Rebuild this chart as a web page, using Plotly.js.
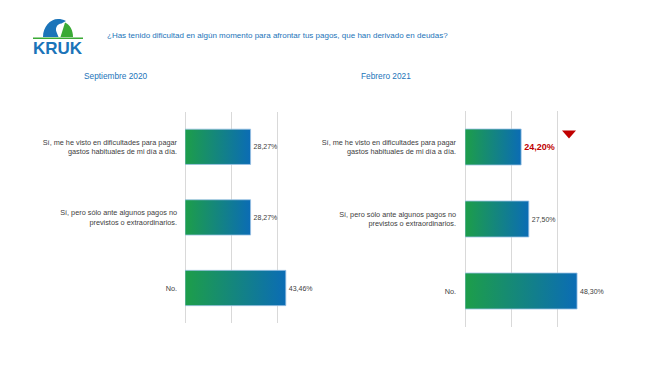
<!DOCTYPE html>
<html>
<head>
<meta charset="utf-8">
<script src="https://cdn.plot.ly/plotly-3.0.1.min.js"></script>
<style>html,body{margin:0;padding:0;background:#fff}</style>
</head>
<body>
<svg width="0" height="0" style="position:absolute">
  <defs>
    <linearGradient id="barGrad" x1="0" y1="0" x2="1" y2="0">
      <stop offset="0" stop-color="#1d9e49"/>
      <stop offset="1" stop-color="#0b6cb5"/>
    </linearGradient>
  </defs>
</svg>
<div id="chart" style="width:650px;height:366px"></div>
<script>
// ---- data ----
const categories = ["dificultades", "imprevistos", "no"];
const categoryLabels = [
  "Sí, me he visto en dificultades para pagar<br>gastos habituales de mi día a día.",
  "Sí, pero sólo ante algunos pagos no<br>previstos o extraordinarios.",
  "No."
];
const sep2020 = [28.27, 28.27, 43.46];
const feb2021 = [24.20, 27.50, 48.30];
const periodLabels = ["Septiembre 2020", "Febrero 2021"];
const questionTitle = "¿Has tenido dificultad en algún momento para afrontar tus pagos, que han derivado en deudas?";

// ---- helpers (pixel -> paper) ----
const W = 650, H = 366;
const px = x => x / W;
const py = y => 1 - y / H;
function pathPx(segs) {
  return segs.map(s => s[0] + (s.length > 1 ? " " + s.slice(1).map((v, i) => (i % 2 === 0 ? px(v) : py(v)).toFixed(5)).join(" ") : "")).join(" ");
}

const BLUE = "#1b74b9";
const GREEN = "#3aaa35";
const FAMILY = "Liberation Sans, Arial, sans-serif";
const labelFont = {family: FAMILY, size: 7.3, color: "#404040"};

const traceBase = {
  type: "bar",
  orientation: "h",
  y: categories,
  textposition: "outside",
  cliponaxis: false,
  constraintext: "none",
  marker: {color: "#1380a0", line: {color: "#9dc3e6", width: 0.8}},
  hoverinfo: "skip"
};

const t1 = Object.assign({}, traceBase, {
  x: sep2020, xaxis: "x", yaxis: "y",
  texttemplate: "%{x:.2f}%",
  textfont: {family: FAMILY, size: 7, color: "#404040"}
});
const t2 = Object.assign({}, traceBase, {
  x: feb2021, xaxis: "x2", yaxis: "y2",
  texttemplate: ["<b>%{x:.2f}%</b>", "%{x:.2f}%", "%{x:.2f}%"],
  textfont: {family: FAMILY, size: [9, 7, 7], color: ["#c00000", "#404040", "#404040"]}
});

const xCommon = {
  range: [0, 50], dtick: 20, tick0: 0,
  showgrid: true, gridcolor: "#d9d9d9", gridwidth: 1,
  zeroline: true, zerolinecolor: "#d9d9d9", zerolinewidth: 1,
  showticklabels: false, showline: false, ticks: "", fixedrange: true, automargin: false
};
const yCommon = {
  type: "category",
  categoryorder: "array", categoryarray: categories,
  tickvals: categories, ticktext: categoryLabels,
  autorange: "reversed",
  showgrid: false, zeroline: false, showline: false, ticks: "",
  tickfont: labelFont, ticklabelstandoff: 7, automargin: false
};

const layout = {
  width: W, height: H,
  margin: {l: 0, r: 0, t: 0, b: 0},
  paper_bgcolor: "#ffffff", plot_bgcolor: "rgba(0,0,0,0)",
  showlegend: false,
  separators: ",.",
  bargap: 0.5,
  font: {family: FAMILY},
  xaxis: Object.assign({}, xCommon, {domain: [px(185), px(301)], anchor: "y"}),
  yaxis: Object.assign({}, yCommon, {domain: [py(323.3), py(111.5)], anchor: "x"}),
  xaxis2: Object.assign({}, xCommon, {domain: [px(465), px(581)], anchor: "y2"}),
  yaxis2: Object.assign({}, yCommon, {domain: [py(327), py(111)], anchor: "x2", ticklabelstandoff: 8}),
  annotations: [
    {text: questionTitle, xref: "paper", yref: "paper", x: px(277), y: py(35),
     xanchor: "center", yanchor: "middle", showarrow: false,
     font: {family: FAMILY, size: 8, color: BLUE}},
    {text: periodLabels[0], xref: "paper", yref: "paper", x: px(116), y: py(76),
     xanchor: "center", yanchor: "middle", showarrow: false,
     font: {family: FAMILY, size: 8.3, color: BLUE}},
    {text: periodLabels[1], xref: "paper", yref: "paper", x: px(385.5), y: py(76),
     xanchor: "center", yanchor: "middle", showarrow: false,
     font: {family: FAMILY, size: 8.3, color: BLUE}},
    {text: "<b>KRUK</b>", xref: "paper", yref: "paper", x: px(58), y: py(48),
     xanchor: "center", yanchor: "middle", showarrow: false,
     font: {family: FAMILY, size: 17, color: BLUE}}
  ],
  shapes: [
    // logo: green rule
    {type: "rect", xref: "paper", yref: "paper", x0: px(33), x1: px(83), y0: py(39), y1: py(37.6),
     fillcolor: GREEN, line: {width: 0}},
    // logo: blue swoosh (bird head)
    {type: "path", xref: "paper", yref: "paper", fillcolor: BLUE, line: {width: 0},
     path: pathPx([["M", 43, 37], ["C", 43, 27, 50, 19, 58, 19], ["C", 61, 19, 63, 19.5, 66, 21],
                   ["L", 61.5, 23.5], ["C", 57, 24, 55, 28, 56.5, 32], ["L", 58.5, 37], ["Z"]])},
    // logo: green segment
    {type: "path", xref: "paper", yref: "paper", fillcolor: GREEN, line: {width: 0},
     path: pathPx([["M", 60.5, 37], ["L", 65, 22.5], ["C", 70, 25, 73, 30, 73, 37], ["Z"]])},
    // red down marker
    {type: "path", xref: "paper", yref: "paper", fillcolor: "#c00000", line: {width: 0},
     path: pathPx([["M", 562, 130.5], ["L", 576, 130.5], ["L", 569, 138.5], ["Z"]])}
  ]
};

Plotly.newPlot("chart", [t1, t2], layout, {displayModeBar: false, staticPlot: true}).then(gd => {
  gd.querySelectorAll(".barlayer .point path").forEach(p => { p.style.fill = "url(#barGrad)"; });
});
</script>
</body>
</html>
